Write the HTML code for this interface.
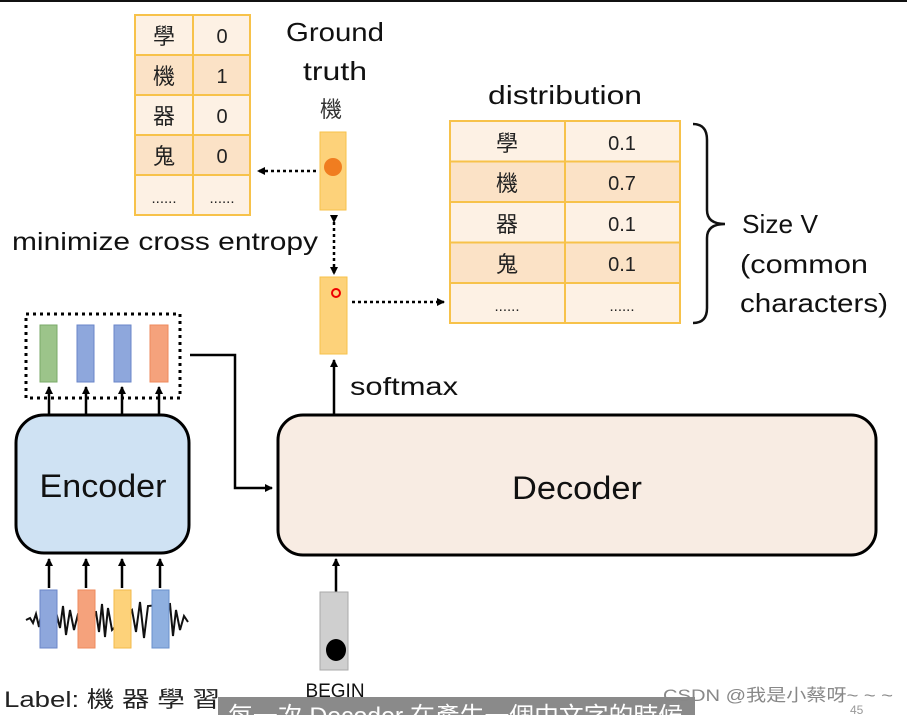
<!DOCTYPE html>
<html><head><meta charset="utf-8"><style>
html,body{margin:0;padding:0;background:#fff;}
body{width:907px;height:715px;overflow:hidden;position:relative;}
svg text{font-family:"Liberation Sans","Noto Sans CJK TC",sans-serif;}
</style></head><body>
<svg width="907" height="715" viewBox="0 0 907 715" xmlns="http://www.w3.org/2000/svg">
<defs>
<marker id="ah" markerWidth="8" markerHeight="8" refX="7" refY="4" orient="auto" markerUnits="userSpaceOnUse"><path d="M0,0 L8,4 L0,8 z" fill="#000"/></marker>
</defs>
<rect x="0" y="0" width="907" height="2" fill="#111"/>
<g stroke="#f7c24a" stroke-width="2">
<rect x="135" y="15" width="115" height="40" fill="#fdf1e4"/>
<rect x="135" y="55" width="115" height="40" fill="#fbe2c6"/>
<rect x="135" y="95" width="115" height="40" fill="#fdf1e4"/>
<rect x="135" y="135" width="115" height="40" fill="#fbe2c6"/>
<rect x="135" y="175" width="115" height="40" fill="#fdf1e4"/>
<line x1="193" y1="15" x2="193" y2="215"/>
</g>
<g font-size="22" text-anchor="middle" fill="#222">
<text x="164" y="44">學</text><text x="222" y="43" font-size="20">0</text>
<text x="164" y="84">機</text><text x="222" y="83" font-size="20">1</text>
<text x="164" y="124">器</text><text x="222" y="123" font-size="20">0</text>
<text x="164" y="164">鬼</text><text x="222" y="163" font-size="20">0</text>
<text x="164" y="203" font-size="15">......</text><text x="222" y="203" font-size="15">......</text>
</g>
<g font-size="26" text-anchor="middle" fill="#111">
<text x="335" y="41" textLength="98" lengthAdjust="spacingAndGlyphs">Ground</text><text x="335" y="80" textLength="64" lengthAdjust="spacingAndGlyphs">truth</text>
</g>
<text x="331" y="117" font-size="22" text-anchor="middle" fill="#333">機</text>
<rect x="320" y="132" width="26" height="78" fill="#fdd27a" stroke="#f7c24a"/>
<circle cx="333" cy="167" r="9" fill="#f07d20"/>
<line x1="316" y1="171" x2="258" y2="171" stroke="#000" stroke-width="2.5" stroke-dasharray="3,3" marker-end="url(#ah)"/>
<text x="12" y="250" font-size="25" fill="#111" textLength="306" lengthAdjust="spacingAndGlyphs">minimize cross entropy</text>
<line x1="334" y1="222" x2="334" y2="274" stroke="#000" stroke-width="2.5" stroke-dasharray="3,3" marker-start="url(#ah)" marker-end="url(#ah)"/>
<rect x="320" y="277" width="27" height="77" fill="#fdd27a" stroke="#f7c24a"/>
<circle cx="336" cy="293" r="4" fill="none" stroke="#e00" stroke-width="2"/>
<line x1="352" y1="302" x2="444" y2="302" stroke="#000" stroke-width="2.5" stroke-dasharray="3,3" marker-end="url(#ah)"/>
<text x="488" y="104" font-size="26" fill="#111" textLength="154" lengthAdjust="spacingAndGlyphs">distribution</text>
<g stroke="#f7c24a" stroke-width="2">
<rect x="450" y="121" width="230" height="40.5" fill="#fdf1e4"/>
<rect x="450" y="161.5" width="230" height="40.5" fill="#fbe2c6"/>
<rect x="450" y="202" width="230" height="40.5" fill="#fdf1e4"/>
<rect x="450" y="242.5" width="230" height="40.5" fill="#fbe2c6"/>
<rect x="450" y="283" width="230" height="40" fill="#fdf1e4"/>
<line x1="565" y1="121" x2="565" y2="323"/>
</g>
<g font-size="22" text-anchor="middle" fill="#222">
<text x="507" y="151">學</text><text x="622" y="150" font-size="20">0.1</text>
<text x="507" y="191">機</text><text x="622" y="190" font-size="20">0.7</text>
<text x="507" y="232">器</text><text x="622" y="231" font-size="20">0.1</text>
<text x="507" y="272">鬼</text><text x="622" y="271" font-size="20">0.1</text>
<text x="507" y="311" font-size="15">......</text><text x="622" y="311" font-size="15">......</text>
</g>
<path d="M693,124 Q707,124 707,140 L707,210 Q707,224 725,224 Q707,224 707,238 L707,308 Q707,323 693,323" fill="none" stroke="#111" stroke-width="2.5"/>
<g font-size="26" fill="#111">
<text x="742" y="233" textLength="76" lengthAdjust="spacingAndGlyphs">Size V</text><text x="740" y="273" textLength="128" lengthAdjust="spacingAndGlyphs">(common</text><text x="740" y="312" textLength="148" lengthAdjust="spacingAndGlyphs">characters)</text>
</g>
<rect x="26" y="314" width="154" height="84" fill="none" stroke="#000" stroke-width="3" stroke-dasharray="3,4"/>
<rect x="40" y="325" width="17" height="57" fill="#9cc48a" stroke="#7aaa68"/>
<rect x="77" y="325" width="17" height="57" fill="#8ea7dc" stroke="#6a86c8"/>
<rect x="114" y="325" width="17" height="57" fill="#8ea7dc" stroke="#6a86c8"/>
<rect x="150" y="325" width="18" height="57" fill="#f5a27c" stroke="#ee8a5c"/>
<g stroke="#000" stroke-width="2.5">
<line x1="49" y1="415" x2="49" y2="387" marker-end="url(#ah)"/>
<line x1="86" y1="415" x2="86" y2="387" marker-end="url(#ah)"/>
<line x1="122" y1="415" x2="122" y2="387" marker-end="url(#ah)"/>
<line x1="159" y1="415" x2="159" y2="387" marker-end="url(#ah)"/>
</g>
<polyline points="190,355 235,355 235,488 272,488" fill="none" stroke="#000" stroke-width="2.5" marker-end="url(#ah)"/>
<rect x="16" y="415" width="173" height="138" rx="28" fill="#cfe2f3" stroke="#000" stroke-width="3"/>
<text x="103" y="497" font-size="32" text-anchor="middle" fill="#111" textLength="127" lengthAdjust="spacingAndGlyphs">Encoder</text>
<rect x="278" y="415" width="598" height="140" rx="25" fill="#f8ece3" stroke="#000" stroke-width="3"/>
<text x="577" y="499" font-size="32" text-anchor="middle" fill="#111" textLength="130" lengthAdjust="spacingAndGlyphs">Decoder</text>
<line x1="334" y1="414" x2="334" y2="360" stroke="#000" stroke-width="2.5" marker-end="url(#ah)"/>
<text x="350" y="395" font-size="25" fill="#111" textLength="108" lengthAdjust="spacingAndGlyphs">softmax</text>
<path d="M26,620 L30,618 L33,623 L36,614 L39,627 L42,608 L45,633 L48,604 L52,634 L56,612 L60,628 L63,606 L66,635 L70,610 L74,630 L78,614 L96,612 L99,632 L102,604 L105,637 L108,608 L112,630 L132,610 L136,632 L140,602 L144,638 L148,606 L170,604 L173,636 L176,610 L180,630 L184,616 L188,622" fill="none" stroke="#111" stroke-width="2"/>
<rect x="40" y="590" width="17" height="58" fill="#8ea7dc" stroke="#6a86c8"/>
<rect x="78" y="590" width="17" height="58" fill="#f5a27c" stroke="#ee8a5c"/>
<rect x="114" y="590" width="17" height="58" fill="#fdd27a" stroke="#f2b94a"/>
<rect x="152" y="590" width="17" height="58" fill="#8fb0e0" stroke="#6a90cc"/>
<g stroke="#000" stroke-width="2.5">
<line x1="49" y1="588" x2="49" y2="559" marker-end="url(#ah)"/>
<line x1="86" y1="588" x2="86" y2="559" marker-end="url(#ah)"/>
<line x1="122" y1="588" x2="122" y2="559" marker-end="url(#ah)"/>
<line x1="160" y1="588" x2="160" y2="559" marker-end="url(#ah)"/>
<line x1="336" y1="592" x2="336" y2="559" marker-end="url(#ah)"/>
</g>
<rect x="320" y="592" width="28" height="78" fill="#cfcfcf" stroke="#aaa"/>
<ellipse cx="336" cy="650" rx="10" ry="11" fill="#000"/>
<text x="335" y="697" font-size="19" text-anchor="middle" fill="#111">BEGIN</text>
<text x="4" y="707" font-size="22" fill="#222" textLength="216" lengthAdjust="spacingAndGlyphs">Label: 機  器  學  習</text>
<rect x="218" y="697" width="477" height="18" fill="#8a8a8a"/>
<text x="228" y="724" font-size="24" fill="#fff" textLength="455" lengthAdjust="spacingAndGlyphs">每一次 Decoder 在產生一個中文字的時候</text>
<text x="663" y="701" font-size="17" fill="#888" textLength="230" lengthAdjust="spacingAndGlyphs">CSDN @我是小蔡呀~ ~ ~</text>
<text x="850" y="714" font-size="12" fill="#999">45</text>
</svg>
</body></html>
